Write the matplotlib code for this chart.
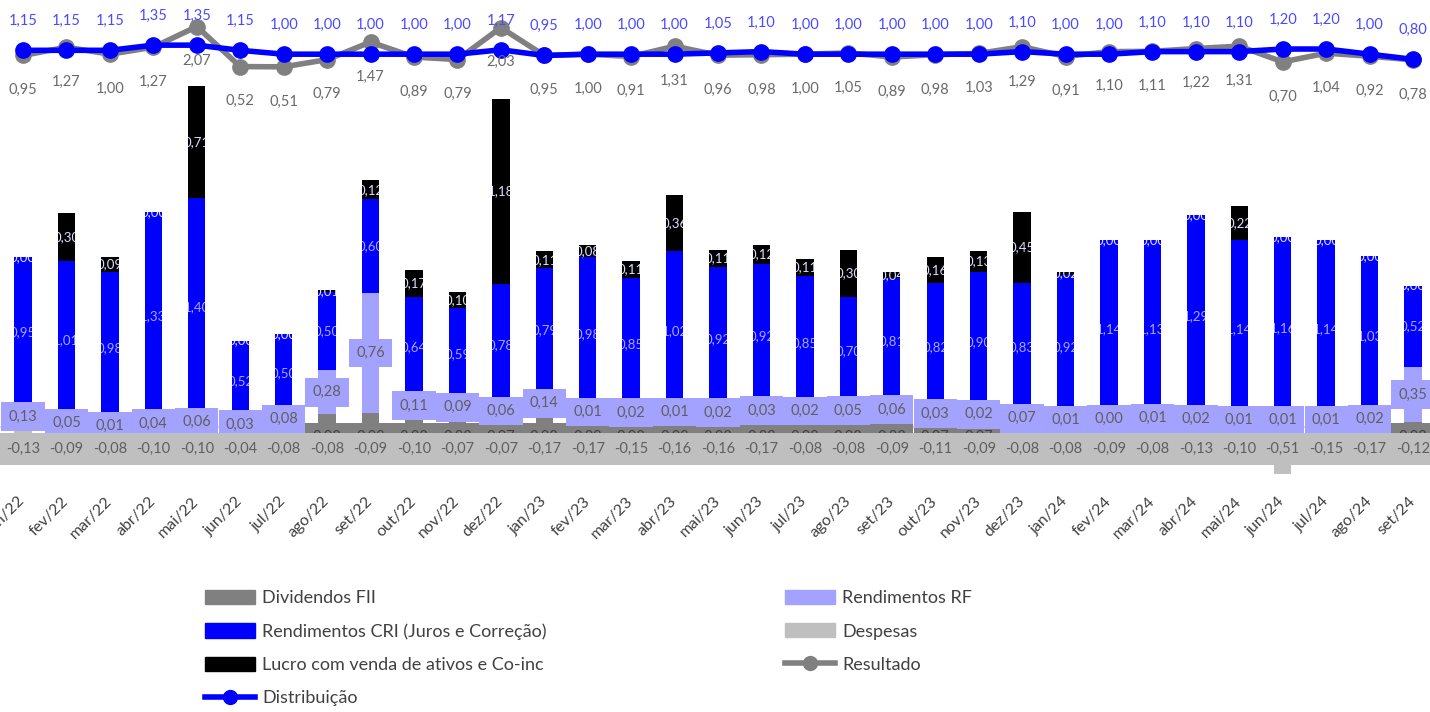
import numpy as np
import matplotlib.pyplot as plt
from matplotlib.patches import Patch, Rectangle
from matplotlib.lines import Line2D

plt.rcParams['font.family'] = ['Lato', 'DejaVu Sans']

meses = ['jan/22', 'fev/22', 'mar/22', 'abr/22', 'mai/22', 'jun/22', 'jul/22', 'ago/22',
         'set/22', 'out/22', 'nov/22', 'dez/22', 'jan/23', 'fev/23', 'mar/23', 'abr/23',
         'mai/23', 'jun/23', 'jul/23', 'ago/23', 'set/23', 'out/23', 'nov/23', 'dez/23',
         'jan/24', 'fev/24', 'mar/24', 'abr/24', 'mai/24', 'jun/24', 'jul/24', 'ago/24', 'set/24']

dividendos_fii = [0.00, 0.00, 0.00, 0.00, 0.00, 0.00, 0.01, 0.08, 0.09, 0.08, 0.08, 0.07,
                  0.08, 0.09, 0.08, 0.09, 0.08, 0.09, 0.09, 0.08, 0.08, 0.07, 0.07, 0.02,
                  0.04, 0.05, 0.05, 0.04, 0.04, 0.04, 0.04, 0.04, 0.03]
rend_rf = [0.13, 0.05, 0.01, 0.04, 0.06, 0.03, 0.08, 0.28, 0.76, 0.11, 0.09, 0.06,
           0.14, 0.01, 0.02, 0.01, 0.02, 0.03, 0.02, 0.05, 0.06, 0.03, 0.02, 0.07,
           0.01, 0.00, 0.01, 0.02, 0.01, 0.01, 0.01, 0.02, 0.35]
rend_cri = [0.95, 1.01, 0.98, 1.33, 1.40, 0.52, 0.50, 0.50, 0.60, 0.64, 0.59, 0.78,
            0.79, 0.98, 0.85, 1.02, 0.92, 0.92, 0.85, 0.70, 0.81, 0.82, 0.90, 0.83,
            0.92, 1.14, 1.13, 1.29, 1.14, 1.16, 1.14, 1.03, 0.52]
lucro_venda = [0.00, 0.30, 0.09, 0.00, 0.71, 0.00, 0.00, 0.01, 0.12, 0.17, 0.10, 1.18,
               0.11, 0.08, 0.11, 0.36, 0.11, 0.12, 0.11, 0.30, 0.04, 0.16, 0.13, 0.45,
               0.02, 0.00, 0.00, 0.00, 0.22, 0.00, 0.00, 0.00, 0.00]
despesas = [-0.13, -0.09, -0.08, -0.10, -0.10, -0.04, -0.08, -0.08, -0.09, -0.10, -0.07, -0.07,
            -0.17, -0.17, -0.15, -0.16, -0.16, -0.17, -0.08, -0.08, -0.09, -0.11, -0.09, -0.08,
            -0.08, -0.09, -0.08, -0.13, -0.10, -0.51, -0.15, -0.17, -0.12]
distribuicao = [1.15, 1.15, 1.15, 1.35, 1.35, 1.15, 1.00, 1.00, 1.00, 1.00, 1.00, 1.17,
                0.95, 1.00, 1.00, 1.00, 1.05, 1.10, 1.00, 1.00, 1.00, 1.00, 1.00, 1.10,
                1.00, 1.00, 1.10, 1.10, 1.10, 1.20, 1.20, 1.00, 0.80]
resultado = [0.95, 1.27, 1.00, 1.27, 2.07, 0.52, 0.51, 0.79, 1.47, 0.89, 0.79, 2.03,
             0.95, 1.00, 0.91, 1.31, 0.96, 0.98, 1.00, 1.05, 0.89, 0.98, 1.03, 1.29,
             0.91, 1.10, 1.11, 1.22, 1.31, 0.70, 1.04, 0.92, 0.78]

C_DIV = '#808080'
C_RF = '#a3a3ff'
C_CRI = '#0000ff'
C_LUCRO = '#000000'
C_DESP = '#bfbfbf'
C_TXT = '#5f5f5f'


def fmt(v):
    return f"{v:.2f}".replace('.', ',')


x = np.arange(len(meses))
w = 0.4
div = np.array(dividendos_fii)
rf = np.array(rend_rf)
cri = np.array(rend_cri)
lucro = np.array(lucro_venda)
base_cri = div + rf
base_lucro = base_cri + cri
topo = base_lucro + lucro

fig = plt.figure(figsize=(14.3, 7.12), dpi=100)
ax = fig.add_axes([0, 0.3343, 1, 0.6657])
ax.set_xlim(-0.53, 32.39)
ax.set_ylim(-0.30, 2.72)

ax.axhline(0, color='#d9d9d9', lw=1.5, zorder=1)
ax.bar(x, div, w, color=C_DIV, zorder=2)
ax.bar(x, rf, w, bottom=div, color=C_RF, zorder=2)
ax.bar(x, cri, w, bottom=base_cri, color=C_CRI, zorder=2)
ax.bar(x, lucro, w, bottom=base_lucro, color=C_LUCRO, zorder=2)
ax.bar(x, despesas, w, color=C_DESP, zorder=2)

# labels inside the blue/black segments are cut to the column width
for i in x:
    clip = Rectangle((i - w / 2, 0), w, topo[i], transform=ax.transData)
    t = ax.text(i, base_cri[i] + cri[i] / 2, fmt(cri[i]), ha='center', va='center',
                fontsize=9.5, color='#a8a8ff', zorder=3, clip_on=True)
    t.set_clip_path(clip)
    clip2 = Rectangle((i - w / 2, 0), w, topo[i], transform=ax.transData)
    t = ax.text(i, base_lucro[i] + lucro[i] / 2, fmt(lucro[i]), ha='center', va='center',
                fontsize=9.5, color='#dcdcff', zorder=3, clip_on=True)
    t.set_clip_path(clip2)

# boxed labels for FII, RF and expenses
for i in x:
    if div[i] > 0:
        ax.text(i, -0.064, fmt(div[i]), ha='center', va='center', fontsize=10.5,
                color='#404040', zorder=4,
                bbox=dict(boxstyle='square,pad=0.5', fc=C_DIV, ec='none'))
for i in x:
    ax.text(i, div[i] + rf[i] / 2, fmt(rf[i]), ha='center', va='center', fontsize=10.5,
            color=C_TXT, zorder=5,
            bbox=dict(boxstyle='square,pad=0.5', fc=C_RF, ec='none'))
for i in x:
    ax.text(i, -0.14, fmt(despesas[i]), ha='center', va='center', fontsize=10.5,
            color=C_TXT, zorder=6,
            bbox=dict(boxstyle='square,pad=0.6', fc=C_DESP, ec='none'))

ax.set_xticks(x)
ax.set_xticklabels(meses, rotation=45, ha='right', va='center', rotation_mode='anchor',
                   color='#404040', fontsize=11.5)
ax.tick_params(axis='x', length=0, pad=18)
ax.set_yticks([])
for s in ax.spines.values():
    s.set_visible(False)

ax2 = ax.twinx()
ax2.set_ylim(-15.27, 3.10)
ax2.plot(x, resultado, color='#808080', lw=4, marker='o', ms=11, zorder=2)
ax2.plot(x, distribuicao, color=C_CRI, lw=4, marker='o', ms=11, zorder=3)
for i in x:
    ax2.annotate(fmt(distribuicao[i]), (i, distribuicao[i]), xytext=(0, 21),
                 textcoords='offset points', ha='center', va='center', fontsize=10.5,
                 color='#4a4aff')
    ax2.annotate(fmt(resultado[i]), (i, resultado[i]), xytext=(0, -25),
                 textcoords='offset points', ha='center', va='center', fontsize=10.5,
                 color='#6a6a6a')
ax2.set_yticks([])
for s in ax2.spines.values():
    s.set_visible(False)

h_div = Patch(color=C_DIV, label='Dividendos FII')
h_cri = Patch(color=C_CRI, label='Rendimentos CRI (Juros e Correção)')
h_lucro = Patch(color=C_LUCRO, label='Lucro com venda de ativos e Co-inc')
h_dist = Line2D([], [], color=C_CRI, lw=4, marker='o', ms=10, label='Distribuição')
h_rf = Patch(color=C_RF, label='Rendimentos RF')
h_desp = Patch(color=C_DESP, label='Despesas')
h_res = Line2D([], [], color='#808080', lw=4, marker='o', ms=10, label='Resultado')

leg_kw = dict(loc='upper left', frameon=False, fontsize=13, handlelength=2.77,
              handleheight=0.83, labelspacing=0.94, handletextpad=0.38,
              borderaxespad=0, borderpad=0, labelcolor='#404040')
fig.legend(handles=[h_div, h_cri, h_lucro, h_dist], bbox_to_anchor=(0.1434, 0.1715), **leg_kw)
fig.legend(handles=[h_rf, h_desp, h_res], bbox_to_anchor=(0.549, 0.1715), **leg_kw)

fig.savefig('out.png', dpi=100)
